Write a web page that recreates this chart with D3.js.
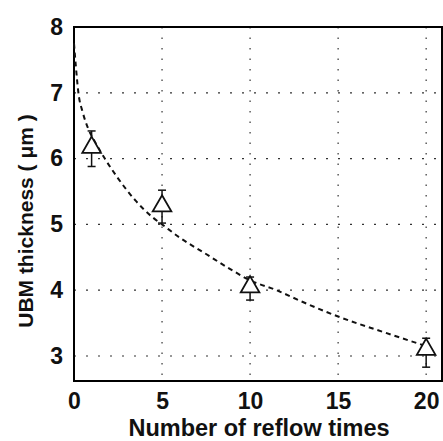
<!DOCTYPE html>
<html>
<head>
<meta charset="utf-8">
<script src="https://cdn.jsdelivr.net/npm/d3@7"></script>
<style>
  body { margin: 0; background: #fff; }
  text { font-family: "Liberation Sans", Arial, sans-serif; font-weight: bold; fill: #111; }
</style>
</head>
<body>
<div id="plot"></div>
<script>
// measured data
const reflowTimes = [1, 5, 10, 20];
const thickness = [6.17, 5.28, 4.05, 3.1];
const errUpper = [6.42, 5.52, 4.2, 3.27];
const errLower = [5.88, 5.02, 3.85, 2.83];

// fitted curve
const fitX = [0, 0.1, 0.25, 0.5, 0.8, 1.2, 1.75, 2.5, 3.5, 4.5, 5, 6, 7.5, 9, 10, 11.5, 13, 15, 17.5, 20];
const fitY = [7.75, 7.42, 7.0, 6.7, 6.46, 6.25, 6.0, 5.7, 5.36, 5.1, 5.0, 4.8, 4.55, 4.3, 4.15, 4.0, 3.82, 3.6, 3.37, 3.15];

const xTicks = [0, 5, 10, 15, 20];
const yTicks = [3, 4, 5, 6, 7, 8];

const margin = { top: 27, right: 1, bottom: 60, left: 74 };
const W = 443, H = 441;
const width = W - margin.left - margin.right;
const height = H - margin.top - margin.bottom;

const svg = d3.select("#plot").append("svg")
  .attr("width", W).attr("height", H)
  .append("g")
  .attr("transform", `translate(${margin.left},${margin.top})`);

const x = d3.scaleLinear().domain([0, 20.9]).range([0, width]);
const y = d3.scaleLinear().domain([2.62, 8]).range([height, 0]);

// grid
svg.append("g").selectAll("line")
  .data(xTicks.filter(d => d > 0))
  .enter().append("line")
  .attr("x1", d => x(d)).attr("x2", d => x(d))
  .attr("y1", 0).attr("y2", height)
  .attr("stroke", "#333").attr("stroke-width", 1.2)
  .attr("stroke-dasharray", "1.5,9");
svg.append("g").selectAll("line")
  .data(yTicks.filter(d => d < 8))
  .enter().append("line")
  .attr("x1", 0).attr("x2", width)
  .attr("y1", d => y(d)).attr("y2", d => y(d))
  .attr("stroke", "#333").attr("stroke-width", 1.2)
  .attr("stroke-dasharray", "2,10");

// frame
svg.append("rect")
  .attr("width", width).attr("height", height)
  .attr("fill", "none").attr("stroke", "#000").attr("stroke-width", 2);

// axes labels
const xAxis = d3.axisBottom(x).tickValues(xTicks).tickFormat(d3.format("d")).tickSize(0).tickPadding(12);
const yAxis = d3.axisLeft(y).tickValues(yTicks).tickFormat(d3.format("d")).tickSize(0).tickPadding(11);
svg.append("g").attr("transform", `translate(0,${height})`).call(xAxis)
  .call(g => g.select(".domain").remove())
  .selectAll("text").style("font-size", "23px");
svg.append("g").call(yAxis)
  .call(g => g.select(".domain").remove())
  .selectAll("text").style("font-size", "23px");

svg.append("text")
  .attr("x", 259 - margin.left).attr("y", 436 - margin.top)
  .attr("text-anchor", "middle").style("font-size", "23.5px")
  .text("Number of reflow times");
svg.append("text")
  .attr("transform", `translate(${33 - margin.left},${221 - margin.top}) rotate(-90)`)
  .attr("text-anchor", "middle").style("font-size", "21px")
  .text("UBM thickness ( μm )");

// fitted curve
const fit = fitX.map((d, i) => [d, fitY[i]]);
svg.append("path")
  .datum(fit)
  .attr("fill", "none").attr("stroke", "#111").attr("stroke-width", 2)
  .attr("stroke-dasharray", "5,4")
  .attr("d", d3.line().x(d => x(d[0])).y(d => y(d[1])).curve(d3.curveMonotoneX));

// error bars
const pts = reflowTimes.map((d, i) => ({ t: d, v: thickness[i], hi: errUpper[i], lo: errLower[i] }));
const eb = svg.append("g").selectAll("g").data(pts).enter().append("g")
  .attr("stroke", "#111").attr("stroke-width", 1.5);
eb.append("line")
  .attr("x1", d => x(d.t)).attr("x2", d => x(d.t))
  .attr("y1", d => y(d.hi)).attr("y2", d => y(d.lo));
eb.append("line")
  .attr("x1", d => x(d.t) - 4).attr("x2", d => x(d.t) + 4)
  .attr("y1", d => y(d.hi)).attr("y2", d => y(d.hi));
eb.append("line")
  .attr("x1", d => x(d.t) - 4).attr("x2", d => x(d.t) + 4)
  .attr("y1", d => y(d.lo)).attr("y2", d => y(d.lo));

// markers
svg.append("g").selectAll("path").data(pts).enter().append("path")
  .attr("d", d3.symbol().type(d3.symbolTriangle).size(150))
  .attr("transform", d => `translate(${x(d.t)},${y(d.v)})`)
  .attr("fill", "#fff").attr("stroke", "#111").attr("stroke-width", 1.8);
</script>
</body>
</html>
